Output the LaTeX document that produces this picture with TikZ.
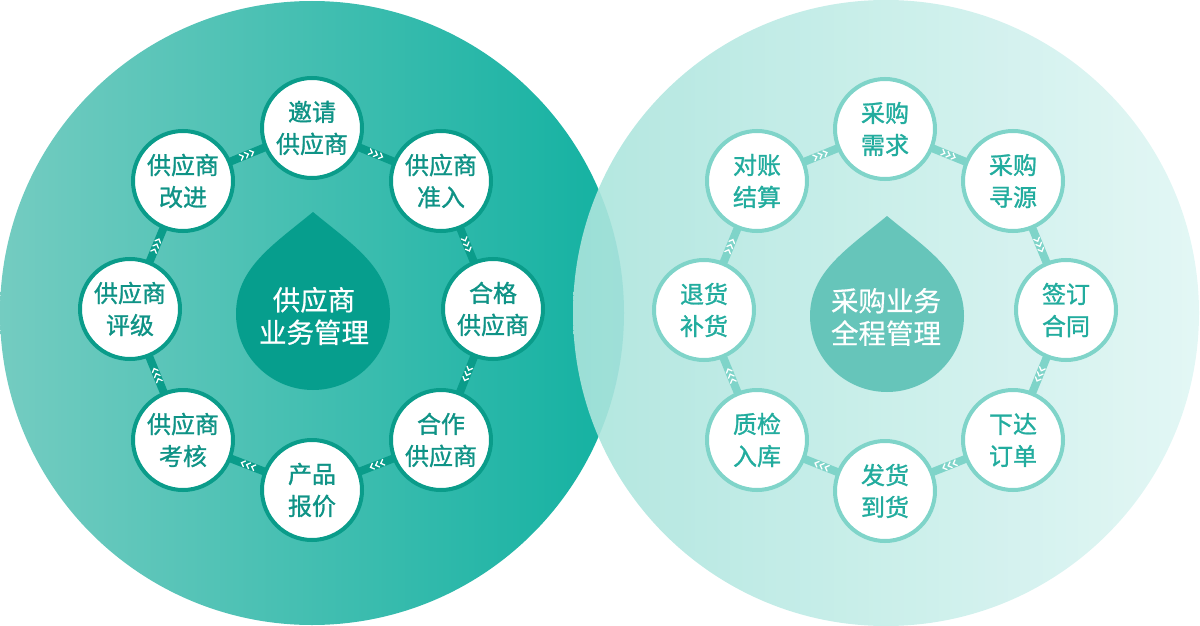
\documentclass[tikz,border=0pt]{standalone}
\usepackage{fontspec}
\newfontfamily\cjk[FakeBold=0.5]{Noto Sans CJK SC}
\newfontfamily\cjkb[FakeBold=1.1]{Noto Sans CJK SC}
\usetikzlibrary{decorations.markings}
\definecolor{lL}{HTML}{74CCC1}
\definecolor{lR}{HTML}{12B1A1}
\definecolor{rL}{HTML}{AAE4DC}
\definecolor{rR}{HTML}{E0F6F4}
\definecolor{lDrop}{HTML}{069E8D}
\definecolor{rDrop}{HTML}{66C5BA}
\definecolor{lS}{HTML}{0A9C8A}
\definecolor{lT}{HTML}{0F9386}
\definecolor{rS}{HTML}{7FD4C9}
\definecolor{rT}{HTML}{22AC9E}
\newcommand\mychevs{\foreach \d in {-5.5,0,5.5}{\draw[white, line width=1.3pt, line cap=round, line join=miter] (\d-2.2,-3) -- (\d+0.9,0) -- (\d-2.2,3);}}
\tikzset{
  basenode/.style={circle, line width=4pt, fill=white, minimum size=100pt, inner sep=0pt, outer sep=0pt, align=center, font=\cjkb\fontsize{24}{32}\selectfont},
  lnode/.style={basenode, draw=lS, text=lT},
  rnode/.style={basenode, draw=rS, text=rT},
  lconn/.style={draw=lS, line width=8pt, postaction={decorate}, decoration={markings, mark=at position 0.5 with {\mychevs}}},
  rconn/.style={draw=rS, line width=8pt, postaction={decorate}, decoration={markings, mark=at position 0.5 with {\mychevs}}},
  droptext/.style={text=white, align=center, font=\cjk\fontsize{27.5}{32.5}\selectfont}
}
\begin{document}
\begin{tikzpicture}[x=1pt,y=-1pt]
\useasboundingbox (0,0) rectangle (1200,626);
% big circles
\shade[left color=lL, right color=lR] (312,313) circle (312);
\shade[left color=rL, right color=rR, opacity=0.9] (886,313) circle (313);
% droplets
\fill[lDrop] (313,212) .. controls (353,245) and (390,268) .. (390,314)
  .. controls (390,356) and (355,390) .. (313,390)
  .. controls (271,390) and (236,356) .. (236,314)
  .. controls (236,268) and (273,245) .. cycle;
\fill[rDrop] (887,216) .. controls (927,249) and (964,272) .. (964,316)
  .. controls (964,358) and (929,392) .. (887,392)
  .. controls (845,392) and (810,358) .. (810,316)
  .. controls (810,272) and (847,249) .. cycle;
\node[droptext] (ldt) at (314,316) {供应商\\业务管理};
\node[droptext] (rdt) at (886,317) {采购业务\\全程管理};
% left ring
\node[lnode] (l1) at (312,128) {邀请\\供应商};
\node[lnode] (l2) at (441,181) {供应商\\准入};
\node[lnode] (l3) at (493,309) {合格\\供应商};
\node[lnode] (l4) at (441,440) {合作\\供应商};
\node[lnode] (l5) at (312,490) {产品\\报价};
\node[lnode] (l6) at (183,440) {供应商\\考核};
\node[lnode] (l7) at (130,309) {供应商\\评级};
\node[lnode] (l8) at (183,181) {供应商\\改进};
\draw[lconn] (l8) -- (l1);
\draw[lconn] (l1) -- (l2);
\draw[lconn] (l2) -- (l3);
\draw[lconn] (l3) -- (l4);
\draw[lconn] (l4) -- (l5);
\draw[lconn] (l5) -- (l6);
\draw[lconn] (l6) -- (l7);
\draw[lconn] (l7) -- (l8);
% right ring
\node[rnode] (r1) at (885,129) {采购\\需求};
\node[rnode] (r2) at (1013,181) {采购\\寻源};
\node[rnode] (r3) at (1066,310) {签订\\合同};
\node[rnode] (r4) at (1013,440) {下达\\订单};
\node[rnode] (r5) at (885,491) {发货\\到货};
\node[rnode] (r6) at (757,440) {质检\\入库};
\node[rnode] (r7) at (704,310) {退货\\补货};
\node[rnode] (r8) at (757,181) {对账\\结算};
\draw[rconn] (r8) -- (r1);
\draw[rconn] (r1) -- (r2);
\draw[rconn] (r2) -- (r3);
\draw[rconn] (r3) -- (r4);
\draw[rconn] (r4) -- (r5);
\draw[rconn] (r5) -- (r6);
\draw[rconn] (r6) -- (r7);
\draw[rconn] (r7) -- (r8);
\end{tikzpicture}
\end{document}
